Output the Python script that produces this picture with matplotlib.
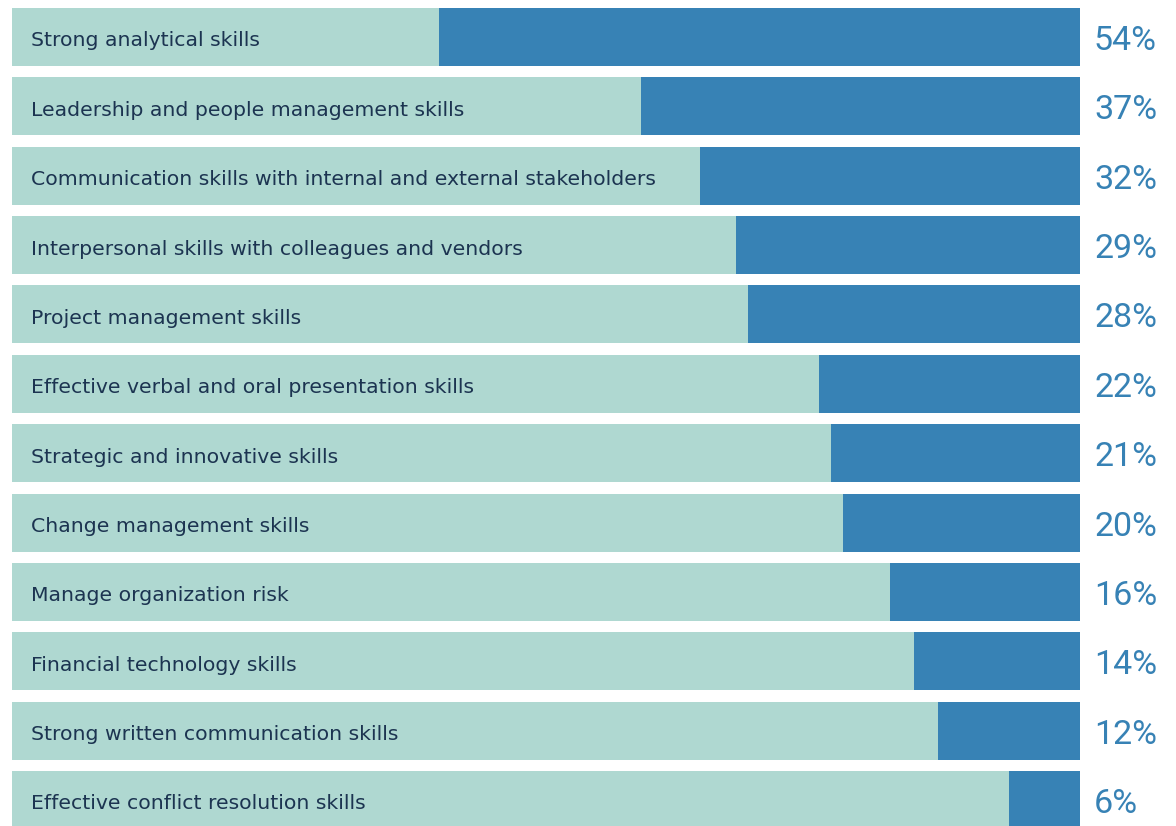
import matplotlib.pyplot as plt
import matplotlib.transforms as mtransforms

skills = [
    "Strong analytical skills",
    "Leadership and people management skills",
    "Communication skills with internal and external stakeholders",
    "Interpersonal skills with colleagues and vendors",
    "Project management skills",
    "Effective verbal and oral presentation skills",
    "Strategic and innovative skills",
    "Change management skills",
    "Manage organization risk",
    "Financial technology skills",
    "Strong written communication skills",
    "Effective conflict resolution skills",
]
pct = [54, 37, 32, 29, 28, 22, 21, 20, 16, 14, 12, 6]

full = 90  # length of the light background bar
light = '#afd8d1'
blue = '#3782b5'
navy = '#1c3451'

fig = plt.figure(figsize=(11.76, 8.26), dpi=100)
ax = fig.add_axes([12 / 1176, 0, 1068 / 1176, 1])

rows = range(len(skills))
ax.barh(rows, [full] * len(skills), height=0.836, color=light)
ax.barh(rows, pct, left=[full - p for p in pct], height=0.836, color=blue)

ax.set_xlim(0, full)
ax.set_ylim(11.375, -0.533)
ax.axis('off')

lbl_off = mtransforms.offset_copy(ax.transData, fig=fig, x=19, y=-4, units='dots')
pct_off = mtransforms.offset_copy(ax.transData, fig=fig, x=14, y=-4, units='dots')
for i, (s, p) in enumerate(zip(skills, pct)):
    ax.text(0, i, s, transform=lbl_off, va='center', ha='left',
            fontsize=14.7, color=navy, family='DejaVu Sans')
    ax.text(full, i, f"{p}%", transform=pct_off, va='center', ha='left',
            fontsize=24.5, color=blue, family='Roboto', weight='normal',
            clip_on=False)

fig.savefig('out.png', dpi=100)
